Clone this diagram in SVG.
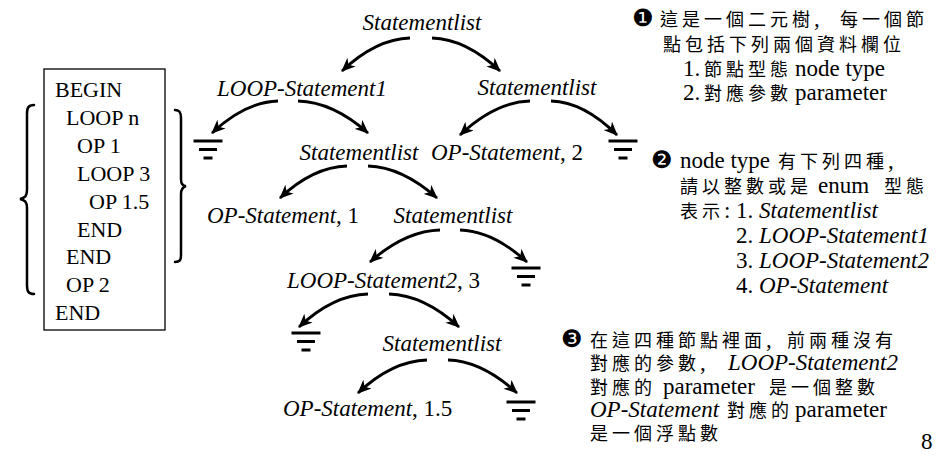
<svg xmlns="http://www.w3.org/2000/svg" width="948" height="460" viewBox="0 0 948 460">
<style>
.tree{font-family:"Liberation Serif","Times New Roman",serif;font-size:23px;fill:#000}
.it{font-style:italic}
.box{font-family:"Liberation Serif","Times New Roman",serif;font-size:22px;fill:#000}
.cjk{font-family:"Noto Sans CJK TC","Noto Sans CJK SC",sans-serif;font-size:18px;letter-spacing:4px;fill:#000}
.lat{font-family:"Liberation Serif","Times New Roman","Noto Sans CJK TC",serif;font-size:23px;fill:#000}
.num{font-family:"DejaVu Sans",sans-serif;font-size:24px;fill:#000}
.arc{fill:none;stroke:#000;stroke-width:2.8;marker-end:url(#ah)}
.gnd line{stroke:#000;stroke-width:3}
.brace{fill:none;stroke:#000;stroke-width:2.5;stroke-linecap:round}
</style>
<defs>
<marker id="ah" viewBox="0 0 14 12" refX="13" refY="6" markerWidth="14" markerHeight="12" markerUnits="userSpaceOnUse" orient="auto">
<path d="M0,0 L14,6 L0,12 L4,6 z" fill="#000"/>
</marker>
<g id="ground" class="gnd">
<line x1="-14.5" y1="0" x2="14.5" y2="0"/>
<line x1="-9" y1="8.5" x2="9" y2="8.5"/>
<line x1="-4.5" y1="17" x2="4.5" y2="17"/>
</g>
</defs>
<rect width="948" height="460" fill="#fff"/>

<g id="program">
<rect x="44" y="69" width="121" height="261" fill="none" stroke="#000" stroke-width="1.3"/>
<text class="box" x="55" y="97">BEGIN</text>
<text class="box" x="66" y="125">LOOP n</text>
<text class="box" x="77" y="153">OP 1</text>
<text class="box" x="77" y="181">LOOP 3</text>
<text class="box" x="89" y="209">OP 1.5</text>
<text class="box" x="77" y="236.5">END</text>
<text class="box" x="66" y="264">END</text>
<text class="box" x="66" y="292">OP 2</text>
<text class="box" x="55" y="320">END</text>
</g>
<g id="braces">
<path class="brace" d="M34,105 C28,105 27,108 27,114 L27,190 C27,196 25,198 20,199 C25,200 27,202 27,208 L27,285 C27,291 28,294 34,294"/>
<path class="brace" d="M175,110 C180,110 181,113 181,118 L181,179 C181,184 183,186 186,186 C183,187 181,189 181,194 L181,255 C181,260 180,262 175,262"/>
</g>

<g id="connectors">
<path class="arc" d="M410,38 Q376,39 342,71"/>
<path class="arc" d="M432,38 Q466,39 500,71"/>
<path class="arc" d="M278,101 Q245,102 212,133"/>
<path class="arc" d="M298,101 Q333,102 368,133"/>
<path class="arc" d="M530,101 Q495,102 460,135"/>
<path class="arc" d="M551,101 Q584,102 617,135"/>
<path class="arc" d="M347,166 Q313,167 280,198"/>
<path class="arc" d="M368,166 Q402,167 437,198"/>
<path class="arc" d="M440,230 Q405,231 370,262"/>
<path class="arc" d="M460,230 Q493,231 527,262"/>
<path class="arc" d="M368,294 Q333,295 299,327"/>
<path class="arc" d="M389,294 Q424,295 459,327"/>
<path class="arc" d="M427,360 Q392,361 358,393"/>
<path class="arc" d="M448,360 Q482,361 517,393"/>
</g>

<g id="n-root"><text class="tree it" x="422" y="30" text-anchor="middle">Statementlist</text></g>
<g id="n-loop1"><text class="tree it" x="217" y="96">LOOP-Statement1</text></g>
<g id="n-sl1"><text class="tree it" x="537" y="95" text-anchor="middle">Statementlist</text></g>
<g id="n-g1"><use href="#ground" x="208" y="141"/></g>
<g id="n-sl2"><text class="tree it" x="359" y="160" text-anchor="middle">Statementlist</text></g>
<g id="n-op2"><text class="tree" x="431" y="160"><tspan class="it">OP-Statement</tspan>, 2</text></g>
<g id="n-g2"><use href="#ground" x="623" y="141"/></g>
<g id="n-op1"><text class="tree" x="207" y="223"><tspan class="it">OP-Statement</tspan>, 1</text></g>
<g id="n-sl3"><text class="tree it" x="453" y="223" text-anchor="middle">Statementlist</text></g>
<g id="n-loop2"><text class="tree" x="287" y="288"><tspan class="it">LOOP-Statement2</tspan>, 3</text></g>
<g id="n-g3"><use href="#ground" x="526" y="268"/></g>
<g id="n-g4"><use href="#ground" x="306" y="333"/></g>
<g id="n-sl5"><text class="tree it" x="442" y="351" text-anchor="middle">Statementlist</text></g>
<g id="n-op15"><text class="tree" x="283" y="416"><tspan class="it">OP-Statement</tspan>, 1.5</text></g>
<g id="n-g5"><use href="#ground" x="521" y="402"/></g>

<g id="note1">
<text y="26"><tspan class="num" x="632">❶</tspan><tspan class="cjk" x="660">這是一個二元樹</tspan><tspan class="lat">,</tspan><tspan class="cjk" x="840">每一個節</tspan></text>
<text y="51"><tspan class="cjk" x="663">點包括下列兩個資料欄位</tspan></text>
<text y="76"><tspan class="lat" x="683">1.</tspan><tspan class="cjk" x="704">節點型態</tspan><tspan class="lat" x="795">node type</tspan></text>
<text y="100"><tspan class="lat" x="683">2.</tspan><tspan class="cjk" x="704">對應參數</tspan><tspan class="lat" x="795">parameter</tspan></text>
</g>
<g id="note2">
<text y="168"><tspan class="num" x="651">❷</tspan><tspan class="lat" x="680">node type</tspan><tspan class="cjk" x="778">有下列四種</tspan><tspan class="lat">,</tspan></text>
<text y="193"><tspan class="cjk" x="680">請以整數或是</tspan><tspan class="lat" x="818">enum</tspan><tspan class="cjk" x="884">型態</tspan></text>
<text y="218"><tspan class="cjk" x="680">表示</tspan><tspan class="lat">:</tspan><tspan class="lat" x="736">1. <tspan class="it">Statementlist</tspan></tspan></text>
<text y="243"><tspan class="lat" x="736">2. <tspan class="it">LOOP-Statement1</tspan></tspan></text>
<text y="268"><tspan class="lat" x="736">3. <tspan class="it">LOOP-Statement2</tspan></tspan></text>
<text y="293"><tspan class="lat" x="736">4. <tspan class="it">OP-Statement</tspan></tspan></text>
</g>
<g id="note3">
<text y="347"><tspan class="num" x="561">❸</tspan><tspan class="cjk" x="590">在這四種節點裡面</tspan><tspan class="lat">,</tspan><tspan class="cjk" x="787">前兩種沒有</tspan></text>
<text y="370"><tspan class="cjk" x="590">對應的參數</tspan><tspan class="lat">,</tspan><tspan class="lat it" x="728">LOOP-Statement2</tspan></text>
<text y="394"><tspan class="cjk" x="590">對應的</tspan><tspan class="lat" x="663">parameter</tspan><tspan class="cjk" x="769">是一個整數</tspan></text>
<text y="417"><tspan class="lat it" x="590">OP-Statement</tspan><tspan class="cjk" x="727">對應的</tspan><tspan class="lat" x="795">parameter</tspan></text>
<text y="440"><tspan class="cjk" x="590">是一個浮點數</tspan></text>
</g>
<g id="page"><text class="lat" x="921" y="449" font-size="20">8</text></g>
</svg>
